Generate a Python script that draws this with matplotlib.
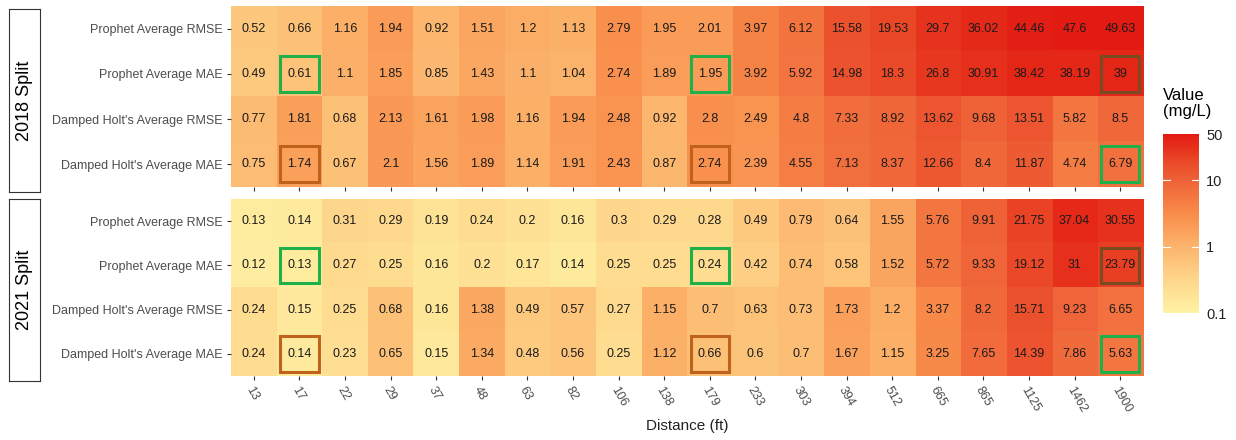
import numpy as np
import matplotlib
matplotlib.use("Agg")
import matplotlib.pyplot as plt
from matplotlib.colors import LinearSegmentedColormap, LogNorm
from matplotlib.patches import Rectangle

plt.rcParams['font.family'] = ['Liberation Sans', 'DejaVu Sans']

distances = [13, 17, 22, 29, 37, 48, 63, 82, 106, 138, 179, 233, 303, 394, 512, 665, 865, 1125, 1462, 1900]
metrics = ["Prophet Average RMSE", "Prophet Average MAE",
           "Damped Holt's Average RMSE", "Damped Holt's Average MAE"]

p_rmse_2018 = [0.52, 0.66, 1.16, 1.94, 0.92, 1.51, 1.2, 1.13, 2.79, 1.95, 2.01, 3.97, 6.12, 15.58, 19.53, 29.7, 36.02, 44.46, 47.6, 49.63]
p_mae_2018 = [0.49, 0.61, 1.1, 1.85, 0.85, 1.43, 1.1, 1.04, 2.74, 1.89, 1.95, 3.92, 5.92, 14.98, 18.3, 26.8, 30.91, 38.42, 38.19, 39]
h_rmse_2018 = [0.77, 1.81, 0.68, 2.13, 1.61, 1.98, 1.16, 1.94, 2.48, 0.92, 2.8, 2.49, 4.8, 7.33, 8.92, 13.62, 9.68, 13.51, 5.82, 8.5]
h_mae_2018 = [0.75, 1.74, 0.67, 2.1, 1.56, 1.89, 1.14, 1.91, 2.43, 0.87, 2.74, 2.39, 4.55, 7.13, 8.37, 12.66, 8.4, 11.87, 4.74, 6.79]

p_rmse_2021 = [0.13, 0.14, 0.31, 0.29, 0.19, 0.24, 0.2, 0.16, 0.3, 0.29, 0.28, 0.49, 0.79, 0.64, 1.55, 5.76, 9.91, 21.75, 37.04, 30.55]
p_mae_2021 = [0.12, 0.13, 0.27, 0.25, 0.16, 0.2, 0.17, 0.14, 0.25, 0.25, 0.24, 0.42, 0.74, 0.58, 1.52, 5.72, 9.33, 19.12, 31, 23.79]
h_rmse_2021 = [0.24, 0.15, 0.25, 0.68, 0.16, 1.38, 0.49, 0.57, 0.27, 1.15, 0.7, 0.63, 0.73, 1.73, 1.2, 3.37, 8.2, 15.71, 9.23, 6.65]
h_mae_2021 = [0.24, 0.14, 0.23, 0.65, 0.15, 1.34, 0.48, 0.56, 0.25, 1.12, 0.66, 0.6, 0.7, 1.67, 1.15, 3.25, 7.65, 14.39, 7.86, 5.63]

# highlighted cells: (metric row, distance, outline colour)
highlights = [
    ("Prophet Average MAE", 17, "#1fb04a"),
    ("Prophet Average MAE", 179, "#1fb04a"),
    ("Prophet Average MAE", 1900, "#7a4a22"),
    ("Damped Holt's Average MAE", 17, "#c0621c"),
    ("Damped Holt's Average MAE", 179, "#c0621c"),
    ("Damped Holt's Average MAE", 1900, "#1fb04a"),
]

splits = [
    ("2018 Split", [p_rmse_2018, p_mae_2018, h_rmse_2018, h_mae_2018]),
    ("2021 Split", [p_rmse_2021, p_mae_2021, h_rmse_2021, h_mae_2021]),
]

cmap = LinearSegmentedColormap.from_list(
    "yor", [(0.0, "#fff2a4"), (0.2, "#fed489"), (0.37, "#fcb46c"),
            (0.55, "#f98d4b"), (0.72, "#f0673a"), (0.85, "#ea4827"), (1.0, "#e31a12")])
norm = LogNorm(vmin=0.1, vmax=50)

fig = plt.figure(figsize=(12.36, 4.4), dpi=100)
grey = "#4d4d4d"

panel_pos = [[0.1869, 0.575, 0.7379, 0.4114], [0.1869, 0.1455, 0.7379, 0.4023]]
strip_pos = [[0.0073, 0.5636, 0.0251, 0.416], [0.0073, 0.134, 0.0251, 0.4136]]

for k, (name, rows) in enumerate(splits):
    ax = fig.add_axes(panel_pos[k])
    data = np.array(rows, dtype=float)
    ax.imshow(data, cmap=cmap, norm=norm, aspect="auto", interpolation="nearest")
    for i in range(data.shape[0]):
        for j in range(data.shape[1]):
            ax.text(j, i, "%g" % data[i, j], ha="center", va="center",
                    fontsize=9, color="#1a1a1a")
    for metric, dist, col in highlights:
        i = metrics.index(metric)
        j = distances.index(dist)
        ax.add_patch(Rectangle((j - 0.42, i - 0.4), 0.84, 0.8, fill=False,
                               edgecolor=col, linewidth=2.2, zorder=3))
    ax.set_yticks(range(len(metrics)))
    ax.set_yticklabels(metrics, fontsize=9, color=grey)
    ax.set_xticks(range(len(distances)))
    if k == 1:
        ax.set_xticklabels(distances, fontsize=9, color=grey, rotation=-60,
                           ha="left", va="top", rotation_mode="anchor")
        ax.set_xlabel("Distance (ft)", fontsize=11, color="#222222", labelpad=3)
    else:
        ax.set_xticklabels([])
    ax.tick_params(length=3, width=0.8, color="#333333", pad=3)
    for s in ax.spines.values():
        s.set_visible(False)

    sx = fig.add_axes(strip_pos[k])
    sx.set_xticks([])
    sx.set_yticks([])
    for s in sx.spines.values():
        s.set_linewidth(0.8)
        s.set_color("#333333")
    sx.text(0.5, 0.5, name, rotation=90, ha="center", va="center",
            fontsize=13, transform=sx.transAxes)

cax = fig.add_axes([0.941, 0.2886, 0.0291, 0.4068])
cb = fig.colorbar(plt.cm.ScalarMappable(norm=norm, cmap=cmap), cax=cax)
cb.outline.set_visible(False)
cb.set_ticks([0.1, 1, 10, 50])
cb.set_ticklabels(["0.1", "1", "10", "50"])
cb.minorticks_off()
cax.tick_params(length=0, labelsize=10.5, colors="#222222", pad=5)
for t in [1, 10]:
    cax.plot([0, 0.2], [t, t], color="white", lw=0.8)
    cax.plot([0.8, 1], [t, t], color="white", lw=0.8)
fig.text(0.941, 0.80, "Value\n(mg/L)", fontsize=12, ha="left", va="top",
         linespacing=1.1)

fig.savefig("out.png", dpi=100)
